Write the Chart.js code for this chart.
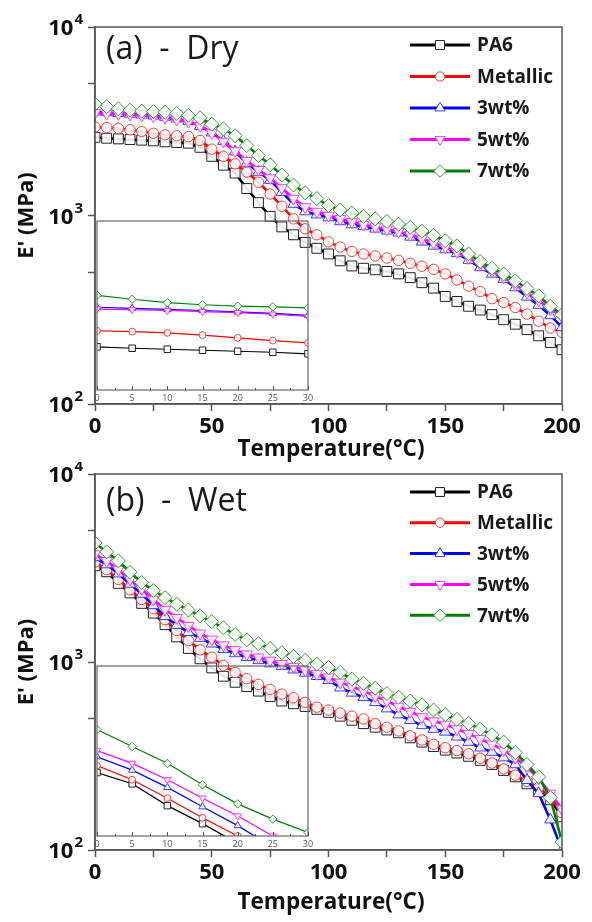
<!DOCTYPE html>
<html>
<head>
<meta charset="utf-8">
<script src="https://cdn.jsdelivr.net/npm/chart.js@4.4.1/dist/chart.umd.min.js"></script>
<style>
  html, body { margin: 0; padding: 0; background: #fff; }
  #wrap { position: relative; width: 592px; height: 922px; overflow: hidden; }
  #wrap canvas { position: absolute; }
</style>
</head>
<body>
<div id="wrap">
  <canvas id="main-a" width="592" height="462" style="left:0;top:0"></canvas>
  <canvas id="inset-a" width="235" height="190" style="left:85px;top:215px"></canvas>
  <canvas id="main-b" width="592" height="460" style="left:0;top:462px"></canvas>
  <canvas id="inset-b" width="235" height="190" style="left:85px;top:660px"></canvas>
</div>
<script>
// Données
const temps = [0,5,10,15,20,25,30,35,40,45,50,55,60,65,70,75,80,85,90,95,100,
  105,110,115,120,125,130,135,140,145,150,155,160,165,170,175,180,185,190,195,200];

const seriesNames = ['PA6', 'Metallic', '3wt%', '5wt%', '7wt%'];

// (a) - Dry, E' (MPa)
const dryPA6      = [2600,2570,2550,2530,2510,2490,2460,2440,2420,2300,2060,1850,1680,1390,1170,990,870,790,720,670,625,575,540,525,515,505,490,468,440,412,372,350,330,315,298,280,265,248,230,212,194];
const dryMetallic = [2950,2930,2900,2850,2790,2730,2680,2650,2620,2500,2250,2060,1880,1700,1500,1300,1120,960,850,790,725,680,645,625,610,595,578,558,538,518,490,455,422,395,362,345,325,300,275,253,240];
const dry3wt      = [3550,3520,3490,3460,3420,3380,3330,3260,3170,2980,2750,2480,2180,1900,1700,1540,1330,1150,1050,1010,975,930,895,875,850,830,810,770,725,690,660,630,580,530,490,460,415,370,335,295,255];
const dry5wt      = [3500,3480,3460,3430,3400,3360,3300,3230,3150,2990,2740,2470,2200,1950,1750,1580,1400,1230,1110,1050,1000,960,925,895,870,845,820,790,755,715,680,640,595,550,505,470,430,390,355,320,290];
const dry7wt      = [3900,3780,3680,3620,3580,3560,3530,3480,3400,3300,3050,2880,2650,2350,2080,1860,1640,1450,1320,1230,1130,1070,1030,990,960,930,900,865,825,785,735,690,625,570,525,490,450,410,375,330,298];

// (b) - Wet
const wetPA6      = [3250,3020,2620,2330,2050,1820,1580,1360,1180,1040,930,840,780,740,700,655,620,600,580,560,540,515,490,470,450,435,420,395,375,355,340,328,315,300,285,265,245,225,205,185,150];
const wetMetallic = [3400,3100,2750,2420,2150,1920,1680,1470,1300,1160,1060,960,880,815,760,715,675,645,610,575,555,535,515,498,470,450,430,405,385,365,350,338,325,308,290,270,250,232,215,190,158];
const wet3wt      = [3600,3300,2950,2600,2300,2000,1750,1570,1440,1340,1250,1170,1110,1060,1020,980,950,910,875,840,800,730,685,650,610,565,525,490,460,440,425,400,375,350,332,310,285,235,200,145,100];
const wet5wt      = [3750,3450,3100,2750,2450,2150,1900,1720,1560,1420,1320,1230,1160,1100,1060,1020,980,945,905,865,830,780,740,700,660,620,580,545,510,485,465,440,415,390,365,340,310,275,240,200,165];
const wet7wt      = [4300,3850,3450,3000,2650,2400,2200,2030,1890,1760,1640,1520,1400,1310,1250,1180,1120,1070,1020,975,935,880,810,770,725,680,650,620,590,555,525,495,470,440,410,375,330,285,245,190,110];

// Graduations
const xTickLabels = [0, 50, 100, 150, 200];
const xTickMinor = [25, 75, 125, 175];
const yPowers = [2, 3, 4];
const yTickMinor = [500, 5000];
const insetTickLabels = [0, 5, 10, 15, 20, 25, 30];
const insetRangeDry = [1850, 7000];
const insetRangeWet = [2150, 6500];

// Styles
const colors = ['#000000', '#ff0000', '#0000ff', '#ff00ff', '#008000'];
const markColors = ['#222222', '#ff3b3b', '#3b3bff', '#ff3bff', '#2f9a2f'];
const pStyles = ['rect', 'circle', 'triangle', 'triangle', 'rectRot'];
const pRot = [0, 0, 0, 180, 0];
const rMain = [7, 5.2, 6.5, 6.5, 7];
const rInset = [4.6, 3.4, 4.2, 4.2, 4.2];
const FONT = "'Open Sans', 'DejaVu Sans', sans-serif";
const AXIS = '#555';

Chart.defaults.font.family = FONT;
Chart.defaults.color = '#111';

function makeDatasets(lists, inset) {
  return lists.map((vals, i) => ({
    label: seriesNames[i],
    data: temps.map((t, k) => ({ x: t, y: vals[k] })),
    borderColor: colors[i],
    borderWidth: inset ? 1.2 : 2.6,
    pointStyle: pStyles[i],
    pointRotation: pRot[i],
    pointRadius: inset ? rInset[i] : rMain[i],
    pointBorderWidth: 1,
    pointBorderColor: markColors[i],
    pointBackgroundColor: 'rgba(255,255,255,0.9)',
    tension: 0,
    order: 5 - i
  }));
}

// Cadre autour de la zone de tracé
const boxPlugin = {
  id: 'box',
  afterDraw(chart, args, opts) {
    const { ctx, chartArea: a } = chart;
    ctx.save();
    ctx.strokeStyle = opts.color || AXIS;
    ctx.lineWidth = opts.width || 1.5;
    ctx.strokeRect(a.left, a.top, a.right - a.left, a.bottom - a.top);
    ctx.restore();
  }
};

// Étiquettes 10^n
const powPlugin = {
  id: 'pow',
  afterDraw(chart) {
    const sc = chart.scales.y;
    const ctx = chart.ctx;
    const right = sc.right - 12;
    ctx.save();
    ctx.fillStyle = '#111';
    ctx.textAlign = 'right';
    ctx.textBaseline = 'alphabetic';
    yPowers.forEach(p => {
      const y = sc.getPixelForValue(Math.pow(10, p));
      ctx.font = 'bold 15px ' + FONT;
      const ew = ctx.measureText(String(p)).width;
      ctx.fillText(String(p), right, y - 3);
      ctx.font = 'bold 22px ' + FONT;
      ctx.fillText('10', right - ew - 1, y + 8);
    });
    ctx.restore();
  }
};

// Légende, titre du panneau, titre de l'axe x
const legendPlugin = {
  id: 'legendBox',
  afterDraw(chart, args, opts) {
    const ctx = chart.ctx;
    const a = chart.chartArea;
    ctx.save();
    ctx.fillStyle = '#1a1a1a';
    ctx.font = opts.titleFont;
    ctx.textAlign = 'left';
    ctx.textBaseline = 'middle';
    ctx.fillText(opts.title, opts.titleX, a.top + opts.titleDy);

    ctx.font = 'bold 22.5px ' + FONT;
    ctx.textAlign = 'center';
    ctx.fillStyle = '#111';
    ctx.fillText('Temperature(\u00B0C)', opts.xTitleX, chart.scales.x.top + opts.xTitleDy);

    ctx.textAlign = 'left';
    ctx.font = 'bold 19px ' + FONT;
    seriesNames.forEach((name, i) => {
      const y = a.top + opts.top + i * opts.step;
      ctx.strokeStyle = colors[i];
      ctx.lineWidth = 3;
      ctx.beginPath();
      ctx.moveTo(opts.x1, y);
      ctx.lineTo(opts.x2, y);
      ctx.stroke();
      ctx.fillStyle = '#fff';
      ctx.strokeStyle = markColors[i];
      ctx.lineWidth = 1;
      Chart.helpers.drawPoint(ctx, {
        pointStyle: pStyles[i], rotation: pRot[i], radius: rMain[i] * 0.9, borderWidth: 1
      }, (opts.x1 + opts.x2) / 2, y);
      ctx.fillStyle = '#1a1a1a';
      ctx.fillText(name, opts.x2 + 7, y + 1);
    });
    ctx.restore();
  }
};

// Petites graduations internes de l'encart
const insetTicks = {
  id: 'insetTicks',
  afterDraw(chart) {
    const ctx = chart.ctx;
    const sx = chart.scales.x;
    const b = chart.chartArea.bottom;
    ctx.save();
    ctx.strokeStyle = AXIS;
    ctx.lineWidth = 1;
    for (let v = 0; v <= 30; v += 2.5) {
      const x = Math.round(sx.getPixelForValue(v)) + 0.5;
      const len = v % 5 === 0 ? 4 : 2;
      ctx.beginPath();
      ctx.moveTo(x, b);
      ctx.lineTo(x, b - len);
      ctx.stroke();
    }
    ctx.restore();
  }
};

function mainChart(id, lists, cfg) {
  return new Chart(document.getElementById(id), {
    type: 'line',
    data: { datasets: makeDatasets(lists, false) },
    options: {
      responsive: false,
      animation: false,
      layout: { padding: { left: 0, top: cfg.top, right: 30, bottom: 0 } },
      plugins: {
        legend: { display: false },
        tooltip: { enabled: false },
        box: { color: AXIS, width: 1.5 },
        legendBox: cfg.legend
      },
      scales: {
        x: {
          type: 'linear', min: 0, max: 200,
          afterBuildTicks: s => { s.ticks = xTickLabels.concat(xTickMinor).sort((p, q) => p - q).map(v => ({ value: v })); },
          afterFit: s => { s.height = cfg.xh; },
          ticks: {
            autoSkip: false, maxRotation: 0, padding: 3,
            font: { size: 22, weight: 'bold' },
            callback: v => xTickLabels.includes(v) ? String(v) : ''
          },
          grid: { drawOnChartArea: false, tickLength: 7, tickColor: AXIS, tickWidth: 1.5 },
          border: { color: AXIS, width: 1.5 }
        },
        y: {
          type: 'logarithmic', min: 100, max: 10000,
          afterBuildTicks: s => { s.ticks = yPowers.map(p => Math.pow(10, p)).concat(yTickMinor).sort((p, q) => p - q).map(v => ({ value: v })); },
          afterFit: s => { s.width = 95; },
          ticks: { autoSkip: false, padding: 4, callback: () => '' },
          grid: { drawOnChartArea: false, tickLength: 7, tickColor: AXIS, tickWidth: 1.5 },
          border: { color: AXIS, width: 1.5 },
          title: { display: true, text: "E' (MPa)", font: { size: 22, weight: 'bold' }, padding: { top: 14, bottom: 0 } }
        }
      }
    },
    plugins: [boxPlugin, powPlugin, legendPlugin]
  });
}

function insetChart(id, lists, xh, range) {
  return new Chart(document.getElementById(id), {
    type: 'line',
    data: { datasets: makeDatasets(lists, true) },
    options: {
      responsive: false,
      animation: false,
      layout: { padding: { left: 12, top: 6, right: 12, bottom: 0 } },
      plugins: { legend: { display: false }, tooltip: { enabled: false }, box: { color: '#666', width: 1.2 } },
      scales: {
        x: {
          type: 'linear', min: 0, max: 30,
          afterBuildTicks: s => { s.ticks = insetTickLabels.map(v => ({ value: v })); },
          afterFit: s => { s.height = xh; },
          ticks: { autoSkip: false, maxRotation: 0, padding: 3, color: '#555', font: { size: 9 } },
          grid: { display: false, drawTicks: false },
          border: { display: false }
        },
        y: { type: 'logarithmic', min: range[0], max: range[1], display: false }
      }
    },
    plugins: [boxPlugin, insetTicks]
  });
}

const dryLists = [dryPA6, dryMetallic, dry3wt, dry5wt, dry7wt];
const wetLists = [wetPA6, wetMetallic, wet3wt, wet5wt, wet7wt];

mainChart('main-a', dryLists, {
  top: 27, xh: 58,
  legend: { title: '(a)  -  Dry', titleFont: '32px ' + FONT, titleX: 106, titleDy: 23,
    xTitleX: 331, xTitleDy: 46, x1: 410, x2: 470, top: 18, step: 31.5 }
});
insetChart('inset-a', dryLists, 15, insetRangeDry);

mainChart('main-b', wetLists, {
  top: 12, xh: 72,
  legend: { title: '(b)  -  Wet', titleFont: '32px ' + FONT, titleX: 106, titleDy: 28,
    xTitleX: 331, xTitleDy: 53, x1: 410, x2: 470, top: 18, step: 30.8 }
});
insetChart('inset-b', wetLists, 14, insetRangeWet);
</script>
</body>
</html>
